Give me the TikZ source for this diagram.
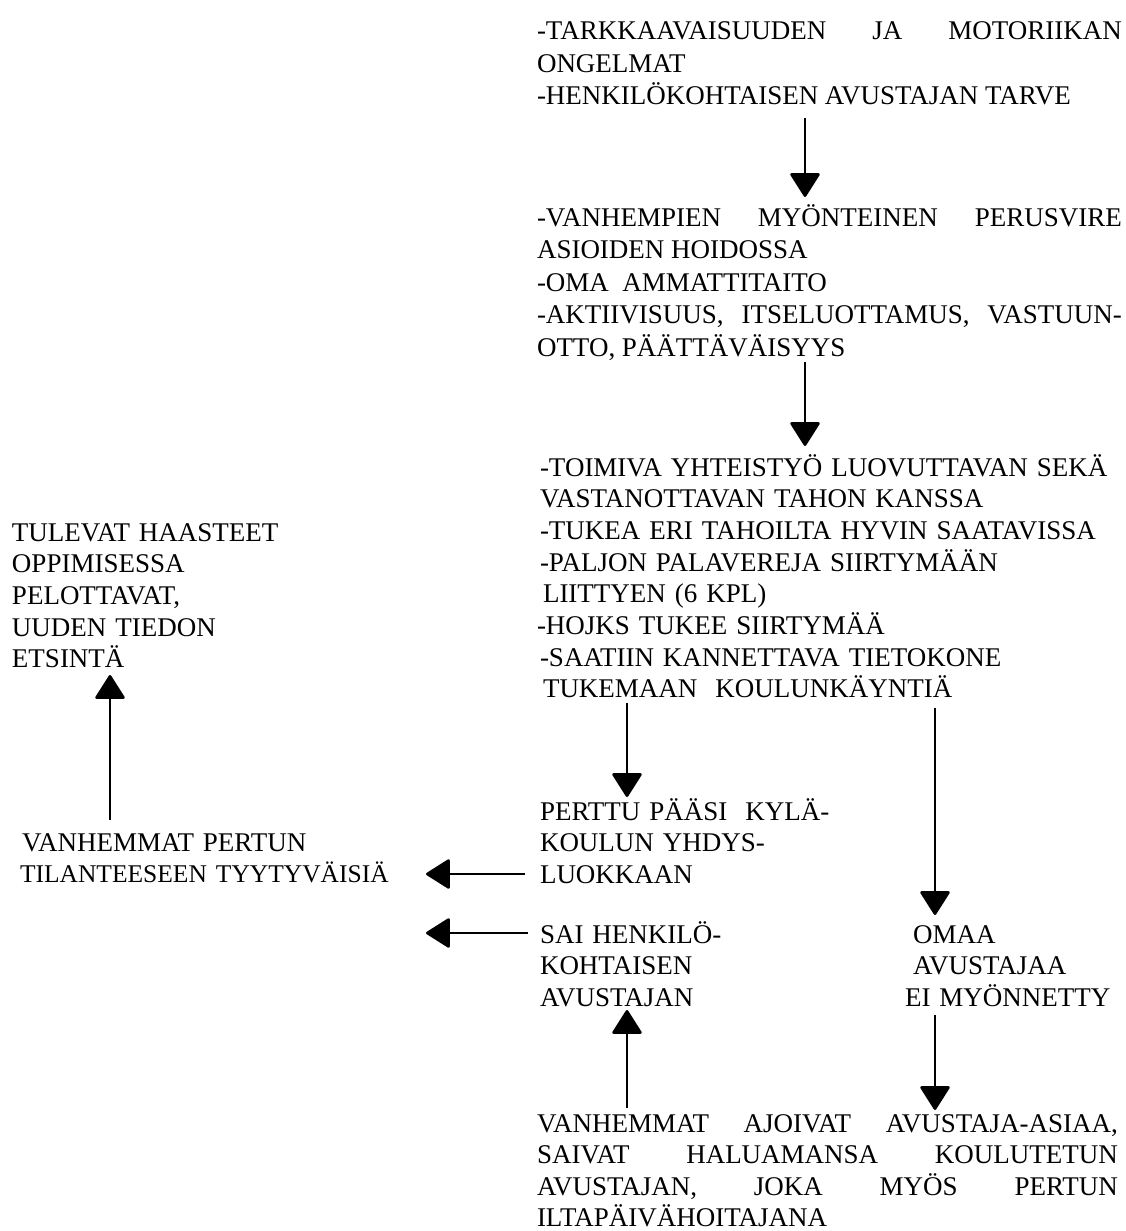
\documentclass[tikz,border=0pt]{standalone}
\usepackage{fontspec}
\setmainfont{Liberation Serif}
\usetikzlibrary{arrows.meta}

\begin{document}
\begin{tikzpicture}[x=1pt,y=-1pt,
  txt/.style={font=\fontsize{27}{32.5}\selectfont, inner sep=0pt, outer sep=0pt,
              anchor=base west, align=left},
  txtb/.style={txt, font=\fontsize{27}{31.7}\selectfont},
  jtxt/.style={txt, align=justify},
  arr/.style={line width=2.6pt, -{Triangle[width=31pt,length=25pt,round]}}]

\path[use as bounding box] (0,0) rectangle (1125,1231);

% text blocks
\node[jtxt, text width=585pt] (need) at (537,40)
  {-TARKKAAVAISUUDEN JA MOTORIIKAN\linebreak ONGELMAT\\-HENKILÖKOHTAISEN AVUSTAJAN TARVE};

\node[jtxt, text width=585pt] (support) at (537,226)
  {-VANHEMPIEN MYÖNTEINEN PERUSVIRE\linebreak ASIOIDEN HOIDOSSA\\-OMA\ \ AMMATTITAITO\\-AKTIIVISUUS, ITSELUOTTAMUS, VASTUUN-\linebreak OTTO, PÄÄTTÄVÄISYYS};

\node[txtb, text width=585pt] (transfer) at (540,476)
  {-TOIMIVA YHTEISTYÖ LUOVUTTAVAN SEKÄ\\VASTANOTTAVAN TAHON KANSSA\\-TUKEA ERI TAHOILTA HYVIN SAATAVISSA\\-PALJON PALAVEREJA SIIRTYMÄÄN\\\hspace*{3pt}LIITTYEN (6 KPL)\\\hspace*{-3pt}-HOJKS TUKEE SIIRTYMÄÄ\\-SAATIIN KANNETTAVA TIETOKONE\\\hspace*{3pt}TUKEMAAN\ \ KOULUNKÄYNTIÄ};

\node[txtb, text width=300pt] (fears) at (12,541)
  {TULEVAT HAASTEET\\OPPIMISESSA\\PELOTTAVAT,\\UUDEN TIEDON\\ETSINTÄ};

\node[txtb, text width=320pt] (school) at (540,820)
  {PERTTU PÄÄSI\ \ KYLÄ-\\KOULUN YHDYS-\\LUOKKAAN};

\node[txtb, text width=400pt] (content) at (20,851)
  {\hspace*{2pt}VANHEMMAT PERTUN\\{\fontsize{25.5}{31.7}\selectfont TILANTEESEEN TYYTYVÄISIÄ}};

\node[txtb, text width=300pt] (assist) at (540,943)
  {SAI HENKILÖ-\\KOHTAISEN\\AVUSTAJAN};

\node[txtb, text width=210pt] (denied) at (913,943)
  {OMAA\\AVUSTAJAA\\\hspace*{-8pt}EI MYÖNNETTY};

\node[jtxt, text width=581pt, font=\fontsize{27}{31.5}\selectfont] (parents) at (537,1132)
  {VANHEMMAT AJOIVAT AVUSTAJA-ASIAA,\linebreak SAIVAT HALUAMANSA KOULUTETUN\linebreak AVUSTAJAN, JOKA MYÖS PERTUN\linebreak ILTAPÄIVÄHOITAJANA};

% connector end points
\coordinate (need-out)       at (805,118);
\coordinate (support-in)     at (805,197);
\coordinate (support-out)    at (805,362);
\coordinate (transfer-in)    at (805,446);
\coordinate (transfer-out1)  at (627,703);
\coordinate (school-in)      at (627,797);
\coordinate (transfer-out2)  at (935,708);
\coordinate (denied-in)      at (935,915);
\coordinate (school-out)     at (525,874);
\coordinate (content-in)     at (426,874);
\coordinate (assist-out)     at (528,933);
\coordinate (assist-tip)     at (426,933);
\coordinate (content-out)    at (110,820);
\coordinate (fears-in)       at (110,675);
\coordinate (parents-out)    at (627,1108);
\coordinate (assist-in)      at (627,1010);
\coordinate (denied-out)     at (935,1015);
\coordinate (parents-in)     at (935,1110);

% connectors
\draw[arr] (need-out)      -- (support-in);
\draw[arr] (support-out)   -- (transfer-in);
\draw[arr] (transfer-out1) -- (school-in);
\draw[arr] (transfer-out2) -- (denied-in);
\draw[arr] (school-out)    -- (content-in);
\draw[arr] (assist-out)    -- (assist-tip);
\draw[arr] (content-out)   -- (fears-in);
\draw[arr] (parents-out)   -- (assist-in);
\draw[arr] (denied-out)    -- (parents-in);
\end{tikzpicture}
\end{document}
